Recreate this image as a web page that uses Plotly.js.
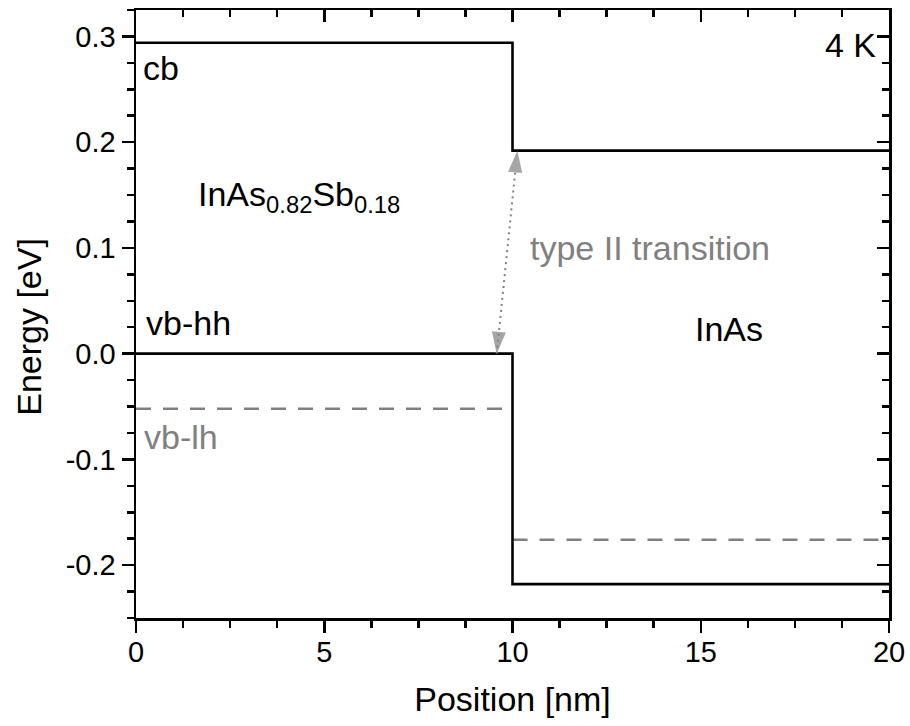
<!DOCTYPE html>
<html>
<head>
<meta charset="utf-8">
<script src="https://cdn.plot.ly/plotly-3.0.1.min.js"></script>
<style>
  html, body { margin: 0; padding: 0; background: #fff; }
  #chart { width: 910px; height: 726px; }
</style>
</head>
<body>
<div id="chart"></div>
<script>
// Band edges across the InAsSb / InAs interface (position in nm, energy in eV)
const position = [0, 10, 10, 20];
const cbEnergy = [0.294, 0.294, 0.192, 0.192];      // conduction band
const vbHhEnergy = [0.0, 0.0, -0.218, -0.218];      // heavy-hole valence band
const lhLeftX = [0, 10];
const lhLeftEnergy = [-0.052, -0.052];              // light-hole band, InAsSb side
const lhRightX = [10, 20];
const lhRightEnergy = [-0.176, -0.176];             // light-hole band, InAs side
const transitionX = [9.58, 10.13];                  // type II transition: vb-hh -> cb
const transitionEnergy = [0.0, 0.192];

const xTickVals = [0, 5, 10, 15, 20];
const xTickText = ['0', '5', '10', '15', '20'];
const yTickVals = [-0.2, -0.1, 0.0, 0.1, 0.2, 0.3];
const yTickText = ['-0.2', '-0.1', '0.0', '0.1', '0.2', '0.3'];

const FONT = 'Liberation Sans, Arial, Helvetica, sans-serif';
const BLACK = '#000000';
const GREY = '#808080';

const headMarker = {
  symbol: 'arrow', size: [0, 23], color: GREY, angleref: 'previous',
  line: { width: 0 }
};

const traces = [
  { x: lhLeftX, y: lhLeftEnergy, mode: 'lines',
    line: { color: GREY, width: 2.5, dash: '15px,12px' }, hoverinfo: 'skip' },
  { x: lhRightX, y: lhRightEnergy, mode: 'lines',
    line: { color: GREY, width: 2.5, dash: '15px,12px' }, hoverinfo: 'skip' },
  { x: position, y: cbEnergy, mode: 'lines',
    line: { color: BLACK, width: 2.6 }, hoverinfo: 'skip' },
  { x: position, y: vbHhEnergy, mode: 'lines',
    line: { color: BLACK, width: 2.6 }, hoverinfo: 'skip' },
  // dotted double arrow; heads point along the segment direction
  { x: transitionX, y: transitionEnergy, mode: 'lines+markers',
    line: { color: GREY, width: 2, dash: '2px,4px' },
    marker: headMarker, hoverinfo: 'skip' },
  { x: transitionX.slice().reverse(), y: transitionEnergy.slice().reverse(), mode: 'markers',
    marker: headMarker, hoverinfo: 'skip' },
  // carrier for the mirrored top/right axes
  { x: [0], y: [0], xaxis: 'x2', yaxis: 'y2', mode: 'markers',
    marker: { opacity: 0 }, hoverinfo: 'skip' }
];

const label = (text, x, y, color, anchor) => ({
  text: text, x: x, y: y, xref: 'x', yref: 'y',
  xanchor: anchor || 'left', yanchor: 'middle', showarrow: false,
  font: { family: FONT, size: 34, color: color }
});

const layout = {
  width: 910, height: 726,
  margin: { l: 136, r: 21, t: 10, b: 108 },
  paper_bgcolor: '#ffffff', plot_bgcolor: '#ffffff',
  showlegend: false,
  font: { family: FONT, color: BLACK },
  xaxis: {
    range: [0, 20], tickvals: xTickVals, ticktext: xTickText,
    ticks: 'outside', ticklen: 12, tickwidth: 2.5, tickcolor: BLACK,
    minor: { dtick: 1.25, tick0: 0, ticks: 'outside', ticklen: 7, tickwidth: 2.5, tickcolor: BLACK },
    showline: true, linewidth: 2.5, linecolor: BLACK,
    showgrid: false, zeroline: false,
    ticklabelstandoff: -5,
    tickfont: { family: FONT, size: 29, color: BLACK },
    title: { text: 'Position [nm]', font: { family: FONT, size: 34, color: BLACK }, standoff: 20 },
    automargin: false
  },
  yaxis: {
    range: [-0.25, 0.325], tickvals: yTickVals, ticktext: yTickText,
    ticks: 'outside', ticklen: 12, tickwidth: 2.5, tickcolor: BLACK,
    minor: { dtick: 0.025, tick0: 0, ticks: 'outside', ticklen: 7, tickwidth: 2.5, tickcolor: BLACK },
    showline: true, linewidth: 2.5, linecolor: BLACK,
    showgrid: false, zeroline: false,
    tickfont: { family: FONT, size: 29, color: BLACK },
    automargin: false
  },
  xaxis2: {
    overlaying: 'x', side: 'top', anchor: 'y2', matches: 'x',
    tickvals: xTickVals, showticklabels: false,
    ticks: 'inside', ticklen: 12, tickwidth: 2.5, tickcolor: BLACK,
    minor: { dtick: 1.25, tick0: 0, ticks: 'inside', ticklen: 7, tickwidth: 2.5, tickcolor: BLACK },
    showline: true, linewidth: 2.5, linecolor: BLACK,
    showgrid: false, zeroline: false
  },
  yaxis2: {
    overlaying: 'y', side: 'right', anchor: 'x2', matches: 'y',
    tickvals: yTickVals, showticklabels: false,
    ticks: 'inside', ticklen: 12, tickwidth: 2.5, tickcolor: BLACK,
    minor: { dtick: 0.025, tick0: 0, ticks: 'inside', ticklen: 7, tickwidth: 2.5, tickcolor: BLACK },
    showline: true, linewidth: 2.5, linecolor: BLACK,
    showgrid: false, zeroline: false
  },
  annotations: [
    // y-axis title, set slightly below the plot-area centre
    { text: 'Energy [eV]', xref: 'paper', yref: 'paper', x: 0, y: 0.479,
      xshift: -107, xanchor: 'center', yanchor: 'middle', textangle: -90,
      showarrow: false, font: { family: FONT, size: 34, color: BLACK } },
    label('cb', 0.12, 0.27, BLACK),
    label('InAs<sub>0.82</sub>Sb<sub>0.18</sub>', 1.6, 0.149, BLACK),
    label('vb-hh', 0.2, 0.029, BLACK),
    label('vb-lh', 0.15, -0.079, GREY),
    label('type II transition', 10.4, 0.1, GREY),
    label('InAs', 14.8, 0.023, BLACK),
    label('4 K', 19.72, 0.292, BLACK, 'right')
  ]
};

Plotly.newPlot('chart', traces, layout, { staticPlot: true, displayModeBar: false });
</script>
</body>
</html>
